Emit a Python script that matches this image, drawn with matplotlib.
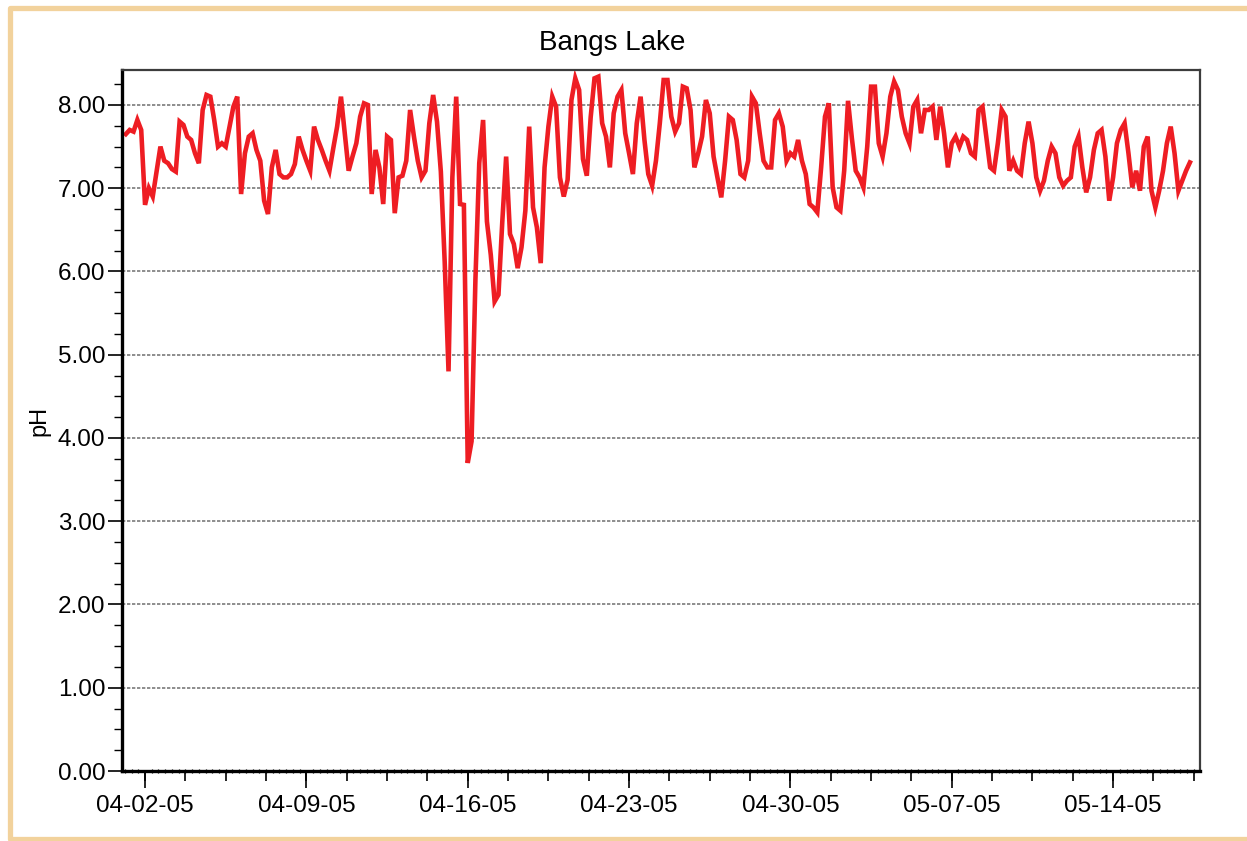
import numpy as np
import pandas as pd
import matplotlib
matplotlib.use('Agg')
import matplotlib.pyplot as plt
import matplotlib.dates as mdates
from matplotlib.lines import Line2D

plt.rcParams['font.family'] = ['Liberation Sans', 'DejaVu Sans']

# readings every 4 hours, starting 04-01-05 04:00
start_time = '2005-04-01 04:00'
step = '4h'
ph_values = [
    7.65, 7.70, 7.68, 7.82, 7.70, 6.80, 7.00, 6.90, 7.20, 7.50, 7.33, 7.30,
    7.23, 7.20, 7.80, 7.76, 7.62, 7.58, 7.42, 7.30, 7.94, 8.12, 8.10, 7.82,
    7.50, 7.54, 7.50, 7.74, 7.98, 8.10, 6.93, 7.42, 7.62, 7.66, 7.46, 7.33,
    6.85, 6.69, 7.25, 7.46, 7.17, 7.13, 7.13, 7.17, 7.29, 7.62, 7.46, 7.33,
    7.21, 7.74, 7.58, 7.46, 7.33, 7.21, 7.48, 7.74, 8.10, 7.66, 7.21, 7.38,
    7.54, 7.86, 8.02, 8.00, 6.93, 7.46, 7.25, 6.81, 7.62, 7.58, 6.70, 7.13,
    7.15, 7.33, 7.94, 7.62, 7.33, 7.13, 7.21, 7.78, 8.12, 7.80, 7.20, 6.12,
    4.80, 7.13, 8.10, 6.81, 6.80, 3.70, 3.96, 5.90, 7.30, 7.82, 6.60, 6.20,
    5.64, 5.72, 6.60, 7.38, 6.45, 6.33, 6.04, 6.29, 6.73, 7.74, 6.77, 6.53,
    6.10, 7.25, 7.74, 8.10, 7.98, 7.13, 6.90, 7.10, 8.06, 8.32, 8.18, 7.35,
    7.15, 7.85, 8.32, 8.34, 7.78, 7.62, 7.25, 7.90, 8.10, 8.18, 7.66, 7.42,
    7.17, 7.78, 8.10, 7.58, 7.17, 7.03, 7.33, 7.78, 8.30, 8.30, 7.86, 7.68,
    7.78, 8.22, 8.20, 7.94, 7.25, 7.42, 7.62, 8.06, 7.90, 7.38, 7.13, 6.89,
    7.33, 7.86, 7.82, 7.58, 7.17, 7.13, 7.33, 8.10, 8.02, 7.66, 7.33, 7.25,
    7.25, 7.82, 7.90, 7.74, 7.33, 7.42, 7.38, 7.58, 7.33, 7.17, 6.81, 6.77,
    6.71, 7.25, 7.86, 8.02, 7.01, 6.77, 6.73, 7.21, 8.05, 7.60, 7.21, 7.13,
    7.01, 7.50, 8.22, 8.22, 7.54, 7.38, 7.66, 8.10, 8.28, 8.18, 7.86, 7.66,
    7.54, 7.98, 8.06, 7.66, 7.94, 7.94, 7.98, 7.58, 7.98, 7.66, 7.25, 7.54,
    7.62, 7.50, 7.62, 7.58, 7.42, 7.38, 7.94, 7.98, 7.62, 7.25, 7.21, 7.54,
    7.94, 7.86, 7.21, 7.33, 7.21, 7.17, 7.54, 7.80, 7.54, 7.13, 6.97, 7.09,
    7.33, 7.50, 7.42, 7.13, 7.03, 7.09, 7.13, 7.50, 7.62, 7.25, 6.95, 7.13,
    7.46, 7.66, 7.70, 7.38, 6.85, 7.13, 7.54, 7.70, 7.78, 7.42, 7.01, 7.21,
    6.97, 7.50, 7.62, 6.97, 6.77, 6.97, 7.21, 7.54, 7.74, 7.42, 6.97, 7.09,
    7.21, 7.31,
]

x_limits = ['2005-04-01 00:00', '2005-05-17 18:30']
major_dates = ['2005-04-02', '2005-04-09', '2005-04-16', '2005-04-23',
               '2005-04-30', '2005-05-07', '2005-05-14']
y_ticks = [0, 1, 2, 3, 4, 5, 6, 7, 8]

times = pd.date_range(start_time, periods=len(ph_values), freq=step)

fig = plt.figure(figsize=(12.47, 8.41), dpi=100)
W, H = 1247, 841
ax = fig.add_axes([122 / W, 1 - 771 / H, (1200 - 122) / W, (771 - 70) / H])

ax.plot(times, ph_values, color='#EE1D23', lw=3.3, solid_joinstyle='miter')

ax.set_xlim(pd.Timestamp(x_limits[0]), pd.Timestamp(x_limits[1]))
ax.set_ylim(0, 8.42)

# y axis
ax.set_yticks(y_ticks)
ax.yaxis.set_major_formatter(plt.FormatStrFormatter('%.2f'))
ax.yaxis.set_minor_locator(plt.MultipleLocator(0.25))
ax.tick_params(axis='y', which='major', length=10, width=1.2, labelsize=17.5, pad=2)
ax.tick_params(axis='y', which='minor', length=6, width=1.0)
ax.yaxis.grid(True, which='major', color='#7a7a7a', linestyle=(0, (2, 1)), lw=1.2)
ax.set_axisbelow(True)

# x axis: weekly labels, ticks every 42h and tiny ticks every 7h
major_pos = mdates.date2num(pd.to_datetime(major_dates))
mid_pos = mdates.date2num(pd.date_range('2005-04-02', x_limits[1], freq='42h'))
tiny_pos = mdates.date2num(pd.date_range('2005-04-01 03:00', x_limits[1], freq='7h'))
ax.set_xticks(major_pos)
ax.xaxis.set_major_formatter(mdates.DateFormatter('%m-%d-%y'))
ax.set_xticks(tiny_pos, minor=True)
ax.tick_params(axis='x', which='major', length=12, width=1.2, labelsize=17.5, pad=5)
ax.tick_params(axis='x', which='minor', length=3, width=0.9, direction='inout')

sec = ax.secondary_xaxis('bottom')
sec.set_xticks(mid_pos)
sec.tick_params(axis='x', length=7, width=1.2, labelbottom=False)
sec.spines['bottom'].set_visible(False)

ax.spines['left'].set_linewidth(2.4)
ax.spines['bottom'].set_linewidth(2.4)
ax.spines['left'].set_color('black')
ax.spines['bottom'].set_color('black')
for side in ['top', 'right']:
    ax.spines[side].set_linewidth(1.6)
    ax.spines[side].set_color('#3c3c3c')

ax.set_ylabel('pH', fontsize=17, labelpad=5)

fig.text(612 / W, 1 - 43 / H, 'Bangs Lake', ha='center', va='center', fontsize=20)

# tan frame (left, top, bottom; right side runs off the picture)
frame_x = [1.1, 9.5 / W, 9.5 / W, 1.1]
frame_y = [1 - 7.5 / H, 1 - 7.5 / H, 1 - 839 / H, 1 - 839 / H]
fig.lines.append(Line2D(frame_x, frame_y, transform=fig.transFigure,
                        color='#F2D29C', lw=3.8))

fig.savefig('out.png', dpi=100)
